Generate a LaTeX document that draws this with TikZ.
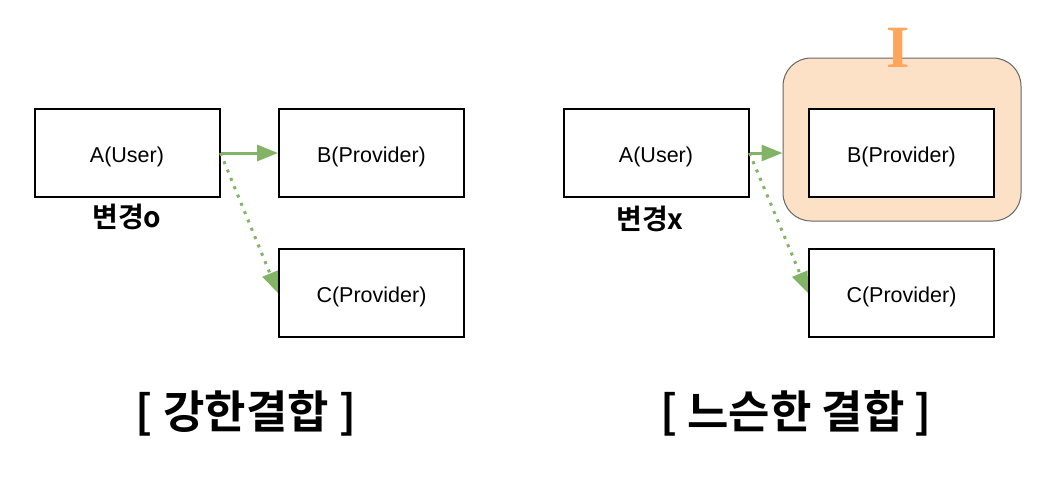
\documentclass[tikz,border=0pt]{standalone}
\usepackage{fontspec}
\setmainfont{Liberation Sans}
\newfontfamily\krfont{Noto Sans CJK KR Bold}
\newfontfamily\serifb{Liberation Serif}
\usetikzlibrary{arrows.meta}
\definecolor{arrgreen}{HTML}{82B366}
\definecolor{ifill}{HTML}{FCE1C7}
\definecolor{iorange}{HTML}{FFA65C}
\tikzset{
  box/.style={draw=black, line width=2pt, minimum width=185pt, minimum height=88pt, inner sep=0pt, text height=20pt, text depth=1pt, font=\fontsize{21.5}{26}\selectfont},
  strongarr/.style={draw=arrgreen, line width=3pt, -{Triangle[length=21pt,width=16pt]}},
  weakarr/.style={draw=arrgreen, line width=3pt, dash pattern=on 3pt off 6pt, -{Triangle[length=21pt,width=16pt]}},
  lbl/.style={font=\krfont\fontsize{28}{32}\selectfont, inner sep=0pt},
  ttl/.style={font=\krfont\fontsize{45}{50}\selectfont, inner sep=0pt},
}
\begin{document}
\begin{tikzpicture}[x=1pt,y=-1pt]
\useasboundingbox (0,0) rectangle (1042,496);
% left
\node[box] (a1) at (127,153) {A(User)};
\node[box] (b1) at (371.5,153) {B(Provider)};
\node[box] (c1) at (371.5,293) {C(Provider)};
\draw[strongarr] (a1.east) -- (b1.west);
\draw[weakarr] (a1.east) -- (c1.west);
\node[lbl] (l1) at (127,217) {변경o};
\node[ttl] (t1) at (246,413) {[ 강한결합 ]};
% right
\node[draw=black!60, fill=ifill, line width=1pt, rounded corners=28pt, minimum width=238pt, minimum height=163pt] (ibox) at (902,139.5) {};
\node[box, fill=white] (a2) at (656,153) {A(User)};
\node[box, fill=white] (b2) at (901.5,153) {B(Provider)};
\node[box] (c2) at (901.5,293) {C(Provider)};
\draw[strongarr] (a2.east) -- (a2.east -| ibox.west);
\draw[weakarr] (a2.east) -- (c2.west);
\node[lbl] (l2) at (650,219) {변경x};
\node[ttl] (t2) at (796,413) {[ 느슨한 결합 ]};
\node[font=\serifb\bfseries\fontsize{60}{60}\selectfont, text=iorange, inner sep=0pt] (ilabel) at (898,48) {I};
\end{tikzpicture}
\end{document}
